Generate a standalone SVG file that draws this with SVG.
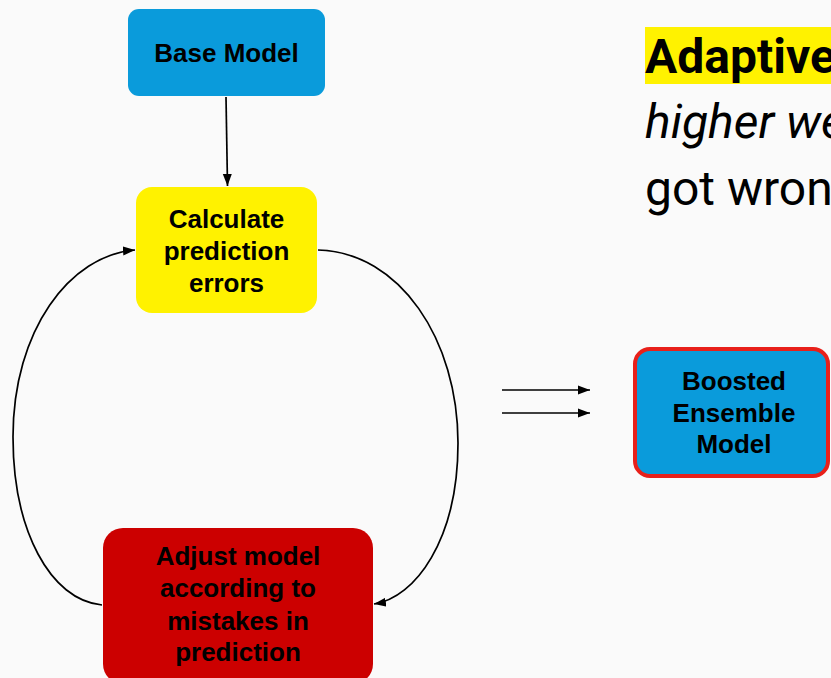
<svg xmlns="http://www.w3.org/2000/svg" width="831" height="678" viewBox="0 0 831 678">
  <defs>
    <marker id="arrow" viewBox="0 0 12 10" refX="12" refY="5" markerWidth="12" markerHeight="10" markerUnits="userSpaceOnUse" orient="auto">
      <path d="M0,0.5 L12,5 L0,9.5 z" fill="#000"/>
    </marker>
    <style>
      .node-text { font-family: "Liberation Sans", Arial, sans-serif; font-weight: bold; font-size: 26px; fill: #000; text-anchor: middle; }
      .edge { fill: none; stroke: #000; stroke-width: 1.7; marker-end: url(#arrow); }
      .blue { fill: #0a9bdb; }
      .title { font-family: Roboto, "Noto Sans", sans-serif; font-size: 48px; fill: #000; }
    </style>
  </defs>

  <rect width="831" height="678" fill="#fafafa"/>

  <!-- heading text on the right -->
  <g id="heading">
    <rect x="645" y="27" width="190" height="57" fill="#fff200"/>
    <text class="title" x="645" y="73" font-weight="bold">Adaptive</text>
    <text class="title" x="645" y="138" font-style="italic">higher we</text>
    <text class="title" x="645" y="205">got wron</text>
  </g>

  <!-- connectors -->
  <g id="connectors">
    <path class="edge" d="M226,97 L227.5,186"/>
    <path class="edge" d="M318,250 C400,252 458,340 458,443 C458,540 415,598 374,604"/>
    <path class="edge" d="M102,605 C50,600 13,530 13,437 C13,330 70,255 135,250"/>
    <path class="edge" d="M502,390 L590,390"/>
    <path class="edge" d="M502,413 L590,413"/>
  </g>

  <g id="base-model">
    <rect class="blue" x="128" y="9" width="197" height="87" rx="11"/>
    <text class="node-text" x="226.5" y="62">Base Model</text>
  </g>

  <g id="calculate-errors">
    <rect x="136" y="187" width="181" height="126" rx="16" fill="#fff200"/>
    <text class="node-text" x="226.5" y="228">Calculate</text>
    <text class="node-text" x="226.5" y="260">prediction</text>
    <text class="node-text" x="226.5" y="292">errors</text>
  </g>

  <g id="adjust-model">
    <rect x="103" y="528" width="270" height="156" rx="20" fill="#cc0000"/>
    <text class="node-text" x="238" y="565">Adjust model</text>
    <text class="node-text" x="238" y="597">according to</text>
    <text class="node-text" x="238" y="630">mistakes in</text>
    <text class="node-text" x="238" y="661">prediction</text>
  </g>

  <g id="boosted-ensemble">
    <rect class="blue" x="635" y="349" width="193" height="127" rx="15" stroke="#e8201a" stroke-width="4"/>
    <text class="node-text" x="734" y="390">Boosted</text>
    <text class="node-text" x="734" y="422">Ensemble</text>
    <text class="node-text" x="734" y="453">Model</text>
  </g>
</svg>
